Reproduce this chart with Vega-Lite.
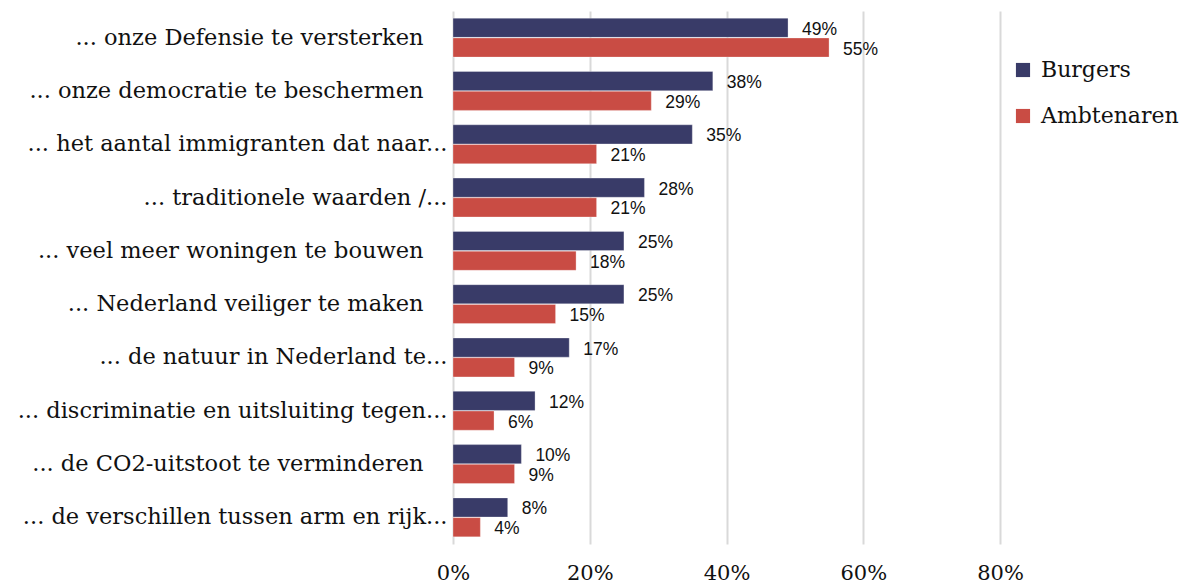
{
  "$schema": "https://vega.github.io/schema/vega-lite/v6.json",
  "width": 547,
  "height": 533,
  "autosize": {"type": "none"},
  "padding": {"left": 453, "top": 11, "right": 184, "bottom": 41},
  "background": "white",
  "config": {"view": {"stroke": null}},
  "data": {
    "values": [
      {"cat": "... onze Defensie te versterken", "series": "Burgers", "value": 0.49},
      {"cat": "... onze Defensie te versterken", "series": "Ambtenaren", "value": 0.55},
      {"cat": "... onze democratie te beschermen", "series": "Burgers", "value": 0.38},
      {"cat": "... onze democratie te beschermen", "series": "Ambtenaren", "value": 0.29},
      {"cat": "... het aantal immigranten dat naar...", "series": "Burgers", "value": 0.35},
      {"cat": "... het aantal immigranten dat naar...", "series": "Ambtenaren", "value": 0.21},
      {"cat": "... traditionele waarden /...", "series": "Burgers", "value": 0.28},
      {"cat": "... traditionele waarden /...", "series": "Ambtenaren", "value": 0.21},
      {"cat": "... veel meer woningen te bouwen", "series": "Burgers", "value": 0.25},
      {"cat": "... veel meer woningen te bouwen", "series": "Ambtenaren", "value": 0.18},
      {"cat": "... Nederland veiliger te maken", "series": "Burgers", "value": 0.25},
      {"cat": "... Nederland veiliger te maken", "series": "Ambtenaren", "value": 0.15},
      {"cat": "... de natuur in Nederland te...", "series": "Burgers", "value": 0.17},
      {"cat": "... de natuur in Nederland te...", "series": "Ambtenaren", "value": 0.09},
      {"cat": "... discriminatie en uitsluiting tegen...", "series": "Burgers", "value": 0.12},
      {"cat": "... discriminatie en uitsluiting tegen...", "series": "Ambtenaren", "value": 0.06},
      {"cat": "... de CO2-uitstoot te verminderen", "series": "Burgers", "value": 0.10},
      {"cat": "... de CO2-uitstoot te verminderen", "series": "Ambtenaren", "value": 0.09},
      {"cat": "... de verschillen tussen arm en rijk...", "series": "Burgers", "value": 0.08},
      {"cat": "... de verschillen tussen arm en rijk...", "series": "Ambtenaren", "value": 0.04}
    ]
  },
  "encoding": {
    "y": {
      "field": "cat", "type": "nominal", "sort": null, "title": null,
      "scale": {"paddingInner": 0.27, "paddingOuter": 0.135},
      "axis": {"domain": false, "ticks": false, "labelFont": "DejaVu Serif", "labelFontSize": 22.5, "labelColor": "#111111", "labelPadding": {"expr": "test(/[.][.][.]$/, datum.value) ? 6 : 30"}, "labelLimit": 600}
    },
    "yOffset": {"field": "series", "type": "nominal", "sort": ["Burgers", "Ambtenaren"], "scale": {"paddingInner": 0.03}},
    "x": {
      "field": "value", "type": "quantitative", "title": null,
      "scale": {"domain": [0, 0.8], "nice": false},
      "axis": {"values": [0, 0.2, 0.4, 0.6, 0.8], "format": ".0%", "domain": false, "ticks": false, "gridColor": "#d9d9d9", "gridWidth": 2, "labelFont": "DejaVu Serif", "labelFontSize": 21, "labelColor": "#111111", "labelPadding": 18, "labelFlush": false}
    }
  },
  "layer": [
    {
      "mark": {"type": "bar", "stroke": "#ffffff", "strokeWidth": 0.6, "strokeOpacity": 0.5},
      "encoding": {
        "color": {
          "field": "series", "type": "nominal", "sort": ["Burgers", "Ambtenaren"],
          "scale": {"domain": ["Burgers", "Ambtenaren"], "range": ["#393b68", "#c94c44"]},
          "legend": {"title": null, "orient": "none", "legendX": 559, "legendY": 48, "symbolType": "square", "symbolSize": 200, "symbolStrokeWidth": 0, "symbolOpacity": 1, "labelFont": "DejaVu Serif", "labelFontSize": 22, "labelColor": "#111111", "rowPadding": 24, "labelOffset": 7, "labelLimit": 170}
        }
      }
    },
    {
      "mark": {"type": "text", "align": "left", "baseline": "middle", "dx": 14, "dy": 2, "font": "Liberation Sans", "fontSize": 17.5, "color": "#111111"},
      "encoding": {
        "text": {"field": "value", "type": "quantitative", "format": ".0%"}
      }
    }
  ]
}
